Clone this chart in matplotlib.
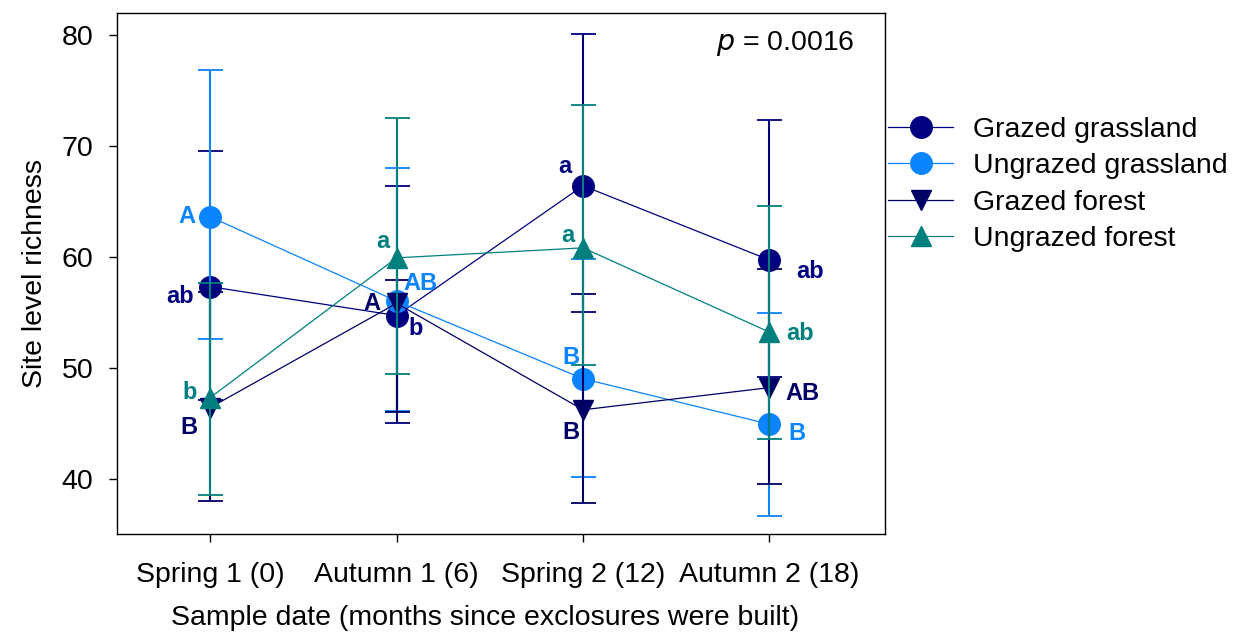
import numpy as np
import matplotlib.pyplot as plt

plt.rcParams['font.family'] = ['Liberation Sans', 'DejaVu Sans']

dates = ['Spring 1 (0)', 'Autumn 1 (6)', 'Spring 2 (12)', 'Autumn 2 (18)']
series = ['Grazed grassland', 'Ungrazed grassland', 'Grazed forest', 'Ungrazed forest']

# means and error bar ends (upper / lower)
gg_mean = [57.3, 54.7, 66.4, 59.7]
gg_hi = [69.5, 66.4, 80.1, 72.3]
gg_lo = [47.1, 45.0, 55.0, 49.2]

ug_mean = [63.6, 56.0, 49.0, 44.9]
ug_hi = [76.8, 68.0, 59.8, 54.9]
ug_lo = [52.6, 46.1, 40.1, 36.6]

gf_mean = [46.4, 55.8, 46.2, 48.2]
gf_hi = [56.8, 57.9, 56.6, 58.9]
gf_lo = [38.0, 46.0, 37.8, 39.5]

uf_mean = [47.3, 59.9, 60.8, 53.2]
uf_hi = [57.6, 72.5, 73.7, 64.6]
uf_lo = [38.5, 49.4, 50.2, 43.6]

gg_letters = ['ab', 'b', 'a', 'ab']
ug_letters = ['A', 'AB', 'B', 'B']
gf_letters = ['B', 'A', 'B', 'AB']
uf_letters = ['b', 'a', 'a', 'ab']

p_text = '$\\it{p}$ = 0.0016'

colors = ['#000080', '#0A84FF', '#000066', '#007F7F']
markers = ['o', 'o', 'v', '^']
msizes = [15.5, 15.5, 15, 15]

# label offsets in points (per series, per date)
offsets = [
    [(-22, -7), (14, -9), (-13, 14), (29, -8)],
    [(-17, 0), (17, 13), (-9, 15), (20, -7)],
    [(-15, -14), (-18, 0), (-9, -16), (24, -4)],
    [(-15, 4), (-10, 12), (-11, 9), (22, -1)],
]

x = np.arange(len(dates))
fig = plt.figure(figsize=(12.38, 6.35), dpi=100)
ax = fig.add_axes([0.0945, 0.159, 0.6204, 0.821])

data = [(gg_mean, gg_lo, gg_hi, gg_letters),
        (ug_mean, ug_lo, ug_hi, ug_letters),
        (gf_mean, gf_lo, gf_hi, gf_letters),
        (uf_mean, uf_lo, uf_hi, uf_letters)]

for i, (m, lo, hi, letters) in enumerate(data):
    m = np.array(m)
    yerr = [m - np.array(lo), np.array(hi) - m]
    z = 3 + i
    ax.errorbar(x, m, yerr=yerr, fmt='none', ecolor=colors[i], elinewidth=1.5,
                capsize=9, capthick=1.3, zorder=z)
    ax.plot(x, m, color=colors[i], lw=0.9, marker=markers[i], ms=msizes[i],
            mec=colors[i], mfc=colors[i], label=series[i], zorder=z)
    for j in range(len(x)):
        ax.annotate(letters[j], (x[j], m[j]), xytext=offsets[i][j],
                    textcoords='offset points', ha='center', va='center',
                    color=colors[i], fontsize=17, fontweight='bold', zorder=10)

ax.set_xlim(-0.5, 3.62)
ax.set_ylim(35, 82)
ax.set_yticks([40, 50, 60, 70, 80])
ax.set_xticks(x)
ax.set_xticklabels(dates)
ax.tick_params(axis='both', direction='out', length=6, width=1, labelsize=20.5)
ax.tick_params(axis='y', pad=11)
ax.tick_params(axis='x', pad=14)
for s in ax.spines.values():
    s.set_linewidth(1)

ax.set_xlabel('Sample date (months since exclosures were built)', fontsize=20.5)
ax.xaxis.set_label_coords(0.479, -0.137)
ax.set_ylabel('Site level richness', fontsize=20.5, labelpad=10)
ax.text(0.961, 0.94, p_text, transform=ax.transAxes, ha='right', va='center', fontsize=20.5)

ax.legend(loc='upper left', bbox_to_anchor=(888 / 1238, 1 - 117 / 635),
          bbox_transform=fig.transFigure, frameon=False, fontsize=20.5,
          handlelength=2.3, handletextpad=0.7, labelspacing=0.36,
          borderpad=0, borderaxespad=0)

plt.savefig('out.png', dpi=100)
